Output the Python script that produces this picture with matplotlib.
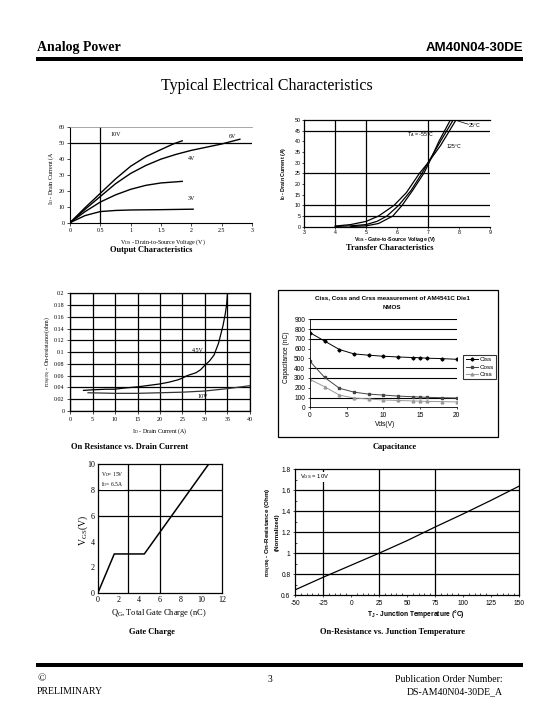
import matplotlib
matplotlib.use("Agg")
import matplotlib.pyplot as plt
from matplotlib.patches import Rectangle
from matplotlib.ticker import MultipleLocator

SERIF = "Liberation Serif"
SANS = "Liberation Sans"
W, H = 540, 720

plt.rcParams["font.family"] = SERIF
plt.rcParams["axes.unicode_minus"] = False

# ── Data ───────────────────────────────────────────────────────
# Output characteristics: VDS (V) vs ID (A) per VGS
out_vds_10 = [0, 0.25, 0.5, 0.75, 1.0, 1.25, 1.5, 1.7, 1.85]
out_id_10 = [0, 9.5, 18.5, 27.5, 35.5, 41.5, 46, 49.5, 51.5]
out_vds_6 = [0, 0.25, 0.5, 0.75, 1.0, 1.25, 1.5, 1.75, 2.0, 2.25, 2.5, 2.8]
out_id_6 = [0, 8.5, 16.5, 24.5, 31, 36, 40, 43, 45.5, 47.5, 49.5, 52.5]
out_vds_4 = [0, 0.25, 0.5, 0.75, 1.0, 1.25, 1.5, 1.85]
out_id_4 = [0, 7, 13, 17.5, 21, 23.5, 25, 26]
out_vds_3 = [0, 0.25, 0.5, 0.75, 1.0, 1.5, 2.03]
out_id_3 = [0, 4.5, 7, 7.7, 8.0, 8.2, 8.5]

# Transfer characteristics: VGS (V) vs ID (A) per temperature
tr_vgs_125 = [4.0, 4.5, 5.0, 5.4, 5.9, 6.3, 6.72, 7.0, 7.4, 7.9]
tr_id_125 = [0.3, 1.0, 2.5, 5, 10, 16, 25, 30, 38, 50]
tr_vgs_25 = [4.0, 4.5, 5.0, 5.35, 5.67, 6.05, 6.45, 6.8, 7.0, 7.4, 7.81]
tr_id_25 = [0.1, 0.4, 1.0, 2.5, 5, 10, 17, 25, 30, 40, 50]
tr_vgs_m55 = [4.5, 5.0, 5.4, 5.86, 6.16, 6.5, 6.86, 7.0, 7.35, 7.72]
tr_id_m55 = [0.1, 0.4, 1.5, 5, 10, 17, 25, 29, 40, 50]

# On resistance vs drain current
rds_id_45 = [3, 5, 8, 10, 12, 15, 18, 20, 22, 24, 25, 26, 28, 29, 30, 31,
             32, 32.5, 33, 33.5, 34, 34.5, 34.8, 35]
rds_45 = [0.035, 0.036, 0.037, 0.037, 0.039, 0.041, 0.044, 0.046, 0.049,
          0.053, 0.056, 0.060, 0.065, 0.070, 0.078, 0.085, 0.095, 0.105,
          0.115, 0.13, 0.145, 0.165, 0.18, 0.2]
rds_id_10 = [4, 10, 15, 20, 25, 30, 35, 40]
rds_10 = [0.031, 0.030, 0.030, 0.031, 0.032, 0.034, 0.038, 0.043]

# Capacitance vs Vds
cap_vds = [0, 2, 4, 6, 8, 10, 12, 14, 15, 16, 18, 20]
ciss = [763, 677, 591, 546, 533, 522, 515, 509, 507, 502, 498, 491]
coss = [470, 305, 195, 155, 135, 125, 115, 108, 105, 102, 98, 95]
crss = [285, 210, 125, 95, 85, 75, 70, 65, 63, 60, 58, 55]

# Gate charge
qg = [0, 1.6, 4.5, 10.7]
vgs_qg = [0, 3.05, 3.05, 10]

# Normalized on-resistance vs junction temperature
tj = [-50, -25, 0, 25, 50, 75, 100, 125, 150]
rds_norm = [0.65, 0.77, 0.885, 1.0, 1.12, 1.25, 1.375, 1.505, 1.64]


def fx(x):
    return x / W


def fy(y):
    return 1 - y / H


def box(x0, y0, x1, y1):
    return [x0 / W, 1 - y1 / H, (x1 - x0) / W, (y1 - y0) / H]


def ftext(x, y, s, size, family=SERIF, **kw):
    kw.setdefault("ha", "center")
    kw.setdefault("va", "center")
    fig.text(fx(x), fy(y), s, fontsize=size, family=family, **kw)


def bar(x0, y0, x1, y1):
    fig.add_artist(Rectangle((fx(x0), fy(y1)), (x1 - x0) / W, (y1 - y0) / H,
                             transform=fig.transFigure, color="black", lw=0))


def style_ticks(ax, family, size, length=2, pad=2):
    ax.tick_params(labelsize=size, length=length, width=0.5, pad=pad)
    for lab in ax.get_xticklabels() + ax.get_yticklabels():
        lab.set_fontfamily(family)


fig = plt.figure(figsize=(5.4, 7.2), dpi=100)

# ── Header ─────────────────────────────────────────────────────
ftext(37, 48, "Analog Power", 10, weight="bold", ha="left")
ftext(523, 48, "AM40N04-30DE", 9.5, family=SANS, weight="bold", ha="right")
bar(36, 57, 523, 61)
ftext(267, 86, "Typical Electrical Characteristics", 11.5)

# ── Output characteristics ─────────────────────────────────────
ax1 = fig.add_axes(box(70, 127.3, 252, 222.7))
for xs, ys in [(out_vds_10, out_id_10), (out_vds_6, out_id_6),
               (out_vds_4, out_id_4), (out_vds_3, out_id_3)]:
    ax1.plot(xs, ys, color="black", lw=1.0)
ax1.axhline(50, color="black", lw=0.9)
ax1.axvline(0.5, color="black", lw=0.9)
ax1.set_xlim(0, 3)
ax1.set_ylim(0, 60)
ax1.set_xticks([0, 0.5, 1, 1.5, 2, 2.5, 3], ["0", "0.5", "1", "1.5", "2", "2.5", "3"])
ax1.set_yticks(range(0, 61, 10))
ax1.spines["right"].set_visible(False)
ax1.spines["top"].set_color("#999999")
ax1.spines["top"].set_linewidth(0.6)
for s in ["left", "bottom"]:
    ax1.spines[s].set_linewidth(0.8)
style_ticks(ax1, SERIF, 4.3)
for x, y, s in [(0.75, 55.5, "10V"), (2.68, 54.5, "6V"), (2.0, 40.5, "4V"), (2.0, 15, "3V")]:
    ax1.text(x, y, s, fontsize=4.3, family=SERIF, ha="center", va="center")
ftext(51, 178, r"I$\mathregular{_D}$ - Drain Current (A", 4.3, rotation=90)
ftext(163, 242, r"V$\mathregular{_{DS}}$ - Drain-to-Source Voltage (V)", 4.3)
ftext(151, 250, "Output Characteristics", 6, weight="bold")

# ── Transfer characteristics ───────────────────────────────────
ax2 = fig.add_axes(box(304.3, 120, 490, 226.7))
for xs, ys in [(tr_vgs_125, tr_id_125), (tr_vgs_25, tr_id_25), (tr_vgs_m55, tr_id_m55)]:
    ax2.plot(xs, ys, color="black", lw=0.9)
for y in [5, 10, 25, 45]:
    ax2.axhline(y, color="black", lw=0.9)
for x in [4, 5, 7]:
    ax2.axvline(x, color="black", lw=0.9)
ax2.set_xlim(3, 9)
ax2.set_ylim(0, 50)
ax2.set_xticks(range(3, 10))
ax2.set_yticks(range(0, 51, 5))
ax2.spines["right"].set_visible(False)
for s in ["left", "bottom", "top"]:
    ax2.spines[s].set_linewidth(0.9)
style_ticks(ax2, SANS, 3.8, length=1.5, pad=1.2)
ax2.text(6.75, 43, "T$\\mathregular{_A}$ = -55°C", fontsize=3.8, family=SANS, ha="center", va="center")
ax2.text(7.85, 37.5, "125°C", fontsize=3.8, family=SANS, ha="center", va="center")
ax2.text(8.5, 47.6, "25°C", fontsize=3.8, family=SANS, ha="center", va="center")
ax2.plot([8.3, 7.95], [48.0, 49.6], color="black", lw=0.5)
ftext(284, 173, r"I$\mathregular{_D}$ - Drain Current (A)", 3.8, family=SANS,
      weight="bold", rotation=90)
ftext(395, 239.5, r"V$\mathregular{_{GS}}$ - Gate-to-Source Voltage (V)", 3.8,
      family=SANS, weight="bold")
ftext(390, 248, "Transfer Characteristics", 6, weight="bold")

# ── On resistance vs drain current ─────────────────────────────
ax3 = fig.add_axes(box(70, 293.3, 250, 411))
ax3.plot(rds_id_45, rds_45, color="black", lw=0.9)
ax3.plot(rds_id_10, rds_10, color="#333333", lw=0.9)
ax3.set_xlim(0, 40)
ax3.set_ylim(0, 0.2)
ax3.set_xticks(range(0, 41, 5))
yt = [i * 0.02 for i in range(11)]
ax3.set_yticks(yt, ["0"] + [f"{v:.2f}".rstrip("0") for v in yt[1:]])
ax3.grid(True, color="black", lw=0.9)
for s in ax3.spines.values():
    s.set_linewidth(0.9)
style_ticks(ax3, SERIF, 4.3)
ax3.text(28.5, 0.102, "4.5V", fontsize=4.3, family=SERIF, ha="center", va="center")
ax3.text(29.5, 0.025, "10V", fontsize=4.3, family=SERIF, ha="center", va="center")
ftext(48, 352, r"r$\mathregular{_{DS(ON)}}$ - On-resistance(ohm)", 4.3, rotation=90)
ftext(160, 431, r"I$\mathregular{_D}$ - Drain Current (A)", 4.3)
ftext(130, 447, "On Resistance vs. Drain Current", 6, weight="bold")

# ── Capacitance ────────────────────────────────────────────────
fig.add_artist(Rectangle((fx(278.3), fy(436.7)), 220 / W, 146.7 / H,
                         transform=fig.transFigure, fill=False, ec="black", lw=0.9))
ax4 = fig.add_axes(box(310, 319.3, 456.7, 407.3))
for y in [100, 300, 400, 700, 800, 900]:
    ax4.axhline(y, color="black", lw=0.8)
ax4.plot(cap_vds, ciss, color="black", lw=0.7, marker="D", ms=1.6, label="Ciss")
ax4.plot(cap_vds, coss, color="#444444", lw=0.7, marker="s", ms=2.0, label="Coss")
ax4.plot(cap_vds, crss, color="#999999", lw=0.7, marker="^", ms=2.0, label="Crss")
ax4.set_xlim(0, 20)
ax4.set_ylim(0, 900)
ax4.set_xticks([0, 5, 10, 15, 20])
ax4.set_yticks(range(0, 901, 100))
ax4.spines["right"].set_visible(False)
ax4.spines["top"].set_visible(False)
for s in ["left", "bottom"]:
    ax4.spines[s].set_linewidth(0.6)
style_ticks(ax4, SANS, 4.8, length=1.5)
leg = ax4.legend(loc="center", bbox_to_anchor=(fx(479.5), fy(367)),
                 bbox_transform=fig.transFigure, fontsize=4.5, frameon=True,
                 fancybox=False, handlelength=2.0, borderpad=0.35,
                 labelspacing=0.35, handletextpad=0.2, borderaxespad=0)
leg.get_frame().set_edgecolor("black")
leg.get_frame().set_linewidth(0.8)
for t in leg.get_texts():
    t.set_fontfamily(SANS)
ftext(392, 298, "Ciss, Coss and Crss measurement of AM4541C Die1", 4.5,
      family=SANS, weight="bold")
ftext(392, 307.5, "NMOS", 4.5, family=SANS, weight="bold")
ftext(287, 357, "Capacitance (nC)", 4.8, family=SANS, rotation=90)
ftext(385, 425, "Vds(V)", 4.8, family=SANS)
ftext(395, 447, "Capacitance", 6, weight="bold")

# ── Gate charge ────────────────────────────────────────────────
ax5 = fig.add_axes(box(97.7, 464.3, 222, 593.3))
ax5.plot(qg, vgs_qg, color="black", lw=1.1)
for x in [2.9, 6]:
    ax5.axvline(x, color="black", lw=0.9)
for y in [6, 8]:
    ax5.axhline(y, color="black", lw=0.9)
ax5.set_xlim(0, 12)
ax5.set_ylim(0, 10)
ax5.set_xticks(range(0, 13, 2))
ax5.set_yticks(range(0, 11, 2))
for s in ax5.spines.values():
    s.set_linewidth(0.9)
style_ticks(ax5, SERIF, 5.8, length=0)
ax5.text(0.35, 9.55, "V$\\mathregular{_D}$= 15V\nI$\\mathregular{_D}$= 6.5A", fontsize=4,
         family=SERIF, ha="left", va="top", zorder=5,
         bbox=dict(facecolor="white", edgecolor="none", pad=0.5))
ftext(83, 530, r"V$\mathregular{_{GS}}$(V)", 7, rotation=90)
ftext(159, 613, r"Q$\mathregular{_G}$, Total Gate Charge (nC)", 6)
ftext(152, 632, "Gate Charge", 6, weight="bold")

# ── On-resistance vs junction temperature ──────────────────────
ax6 = fig.add_axes(box(295.3, 469.3, 519.3, 595))
ax6.plot(tj, rds_norm, color="black", lw=0.9)
for x in [-25, 25, 75]:
    ax6.axvline(x, color="black", lw=0.9)
for y in [0.8, 1.0, 1.2, 1.4, 1.6]:
    ax6.axhline(y, color="black", lw=0.9)
ax6.set_xlim(-50, 150)
ax6.set_ylim(0.6, 1.8)
ax6.set_xticks(range(-50, 151, 25))
ax6.set_yticks([0.6, 0.8, 1.0, 1.2, 1.4, 1.6, 1.8], ["0.6", "0.8", "1", "1.2", "1.4", "1.6", "1.8"])
ax6.xaxis.set_minor_locator(MultipleLocator(5))
ax6.yaxis.set_minor_locator(MultipleLocator(0.1))
ax6.tick_params(which="minor", direction="in", length=1.5, width=0.5)
for s in ax6.spines.values():
    s.set_linewidth(0.9)
style_ticks(ax6, SANS, 4.8, length=1.5)
ax6.text(-46, 1.77, "V$\\mathregular{_{GS}}$ = 10V", fontsize=4.2, family=SANS,
         ha="left", va="top", zorder=5,
         bbox=dict(facecolor="white", edgecolor="none", pad=0.5))
ftext(272, 532, "r$\\mathregular{_{DS(ON)}}$ - On-Resistance (Ohm)\n(Normalized)", 4.5,
      family=SANS, weight="bold", rotation=90, linespacing=1.3)
ftext(416, 614, "T$\\mathregular{_J}$ - Junction Temperature (°C)", 4.8,
      family=SANS, weight="bold")
ftext(393, 632, "On-Resistance vs. Junction Temperature", 6, weight="bold")

# ── Footer ─────────────────────────────────────────────────────
bar(36, 663, 523, 667)
ftext(37, 679, "©", 8, ha="left")
ftext(37, 692, "PRELIMINARY", 7, ha="left")
ftext(270, 679, "3", 7)
ftext(503, 679, "Publication Order Number:", 7, ha="right")
ftext(503, 692, "DS-AM40N04-30DE_A", 7, ha="right")

plt.savefig("out.png", dpi=100)
